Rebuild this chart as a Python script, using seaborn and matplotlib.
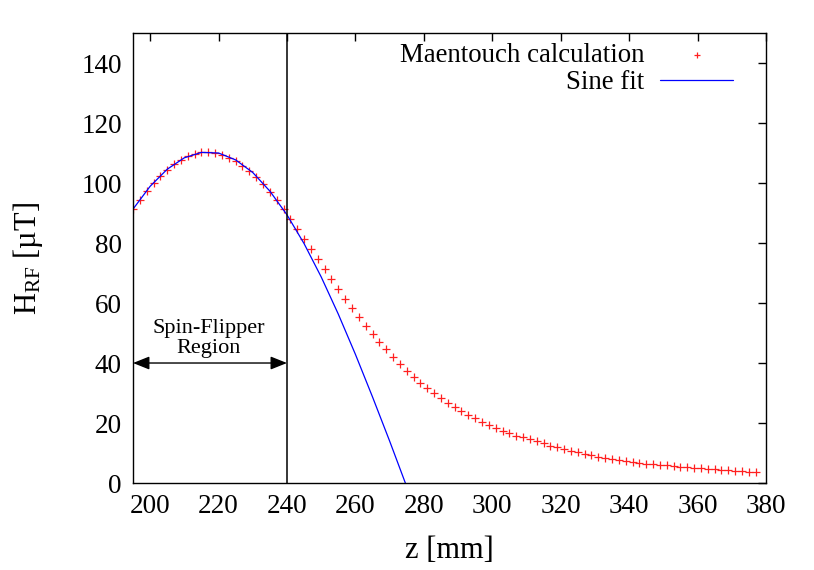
import matplotlib
matplotlib.use('Agg')
import matplotlib.pyplot as plt
import seaborn as sns
import pandas as pd

# Maentouch calculation, one point every 2 mm
z_calc = [195, 197, 199, 201, 203, 205, 207, 209, 211, 213, 215, 217,
          219, 221, 223, 225, 227, 229, 231, 233, 235, 237, 239,
          241, 243, 245, 247, 249, 251, 253, 255, 257, 259, 261, 263,
          265, 267, 269, 271, 273, 275,
          277, 279, 281, 283, 285, 287, 289, 291, 293, 295, 297, 299,
          301, 303, 305, 307, 309, 311,
          313, 315, 317, 319, 321, 323, 325, 327, 329, 331, 333, 335,
          337, 339, 341, 343, 345,
          347, 349, 351, 353, 355, 357, 359, 361, 363, 365, 367, 369,
          371, 373, 375, 377]
h_calc = [91.5, 94.5, 97.3, 100.0, 102.4, 104.5, 106.3, 107.8, 109.0, 109.8, 110.2, 110.3,
          110.0, 109.4, 108.5, 107.3, 105.8, 104.0, 101.9, 99.6, 97.1, 94.3, 91.3,
          88.0, 84.6, 81.2, 77.9, 74.6, 71.2, 67.9, 64.6, 61.3, 58.3, 55.3, 52.4,
          49.7, 47.0, 44.6, 42.1, 39.8, 37.5,
          35.4, 33.4, 31.6, 29.9, 28.3, 26.8, 25.4, 24.0, 22.8, 21.6, 20.4, 19.3,
          18.3, 17.4, 16.6, 15.8, 15.2, 14.6,
          13.9, 13.2, 12.5, 11.9, 11.3, 10.7, 10.2, 9.7, 9.2, 8.8, 8.4, 8.0,
          7.7, 7.3, 7.0, 6.8, 6.5,
          6.3, 6.1, 5.9, 5.7, 5.5, 5.3, 5.1, 4.9, 4.7, 4.6, 4.4, 4.2,
          4.0, 3.9, 3.7, 3.6]

z_fit = [195, 200, 205, 210, 215, 220, 225, 230, 235, 240, 245, 250,
         255, 260, 265, 270, 274.6]
h_fit = [91.3, 98.9, 104.6, 108.4, 110.2, 110.0, 107.7, 103.5, 97.3, 89.4, 79.8, 68.7,
         56.3, 42.9, 28.7, 14.0, 0.0]

x_ticks = [200, 220, 240, 260, 280, 300, 320, 340, 360, 380]
y_ticks = [0, 20, 40, 60, 80, 100, 120, 140]
region = [195, 240]  # spin-flipper region limits

df_calc = pd.DataFrame({'z': z_calc, 'H': h_calc})
df_fit = pd.DataFrame({'z': z_fit, 'H': h_fit})

sns.set_style('white')
plt.rcParams['font.family'] = ['Liberation Serif', 'DejaVu Serif']
plt.rcParams['mathtext.fontset'] = 'custom'
plt.rcParams['mathtext.rm'] = 'Liberation Serif'
plt.rcParams['text.color'] = 'black'
plt.rcParams['axes.labelcolor'] = 'black'
plt.rcParams['xtick.color'] = 'black'
plt.rcParams['ytick.color'] = 'black'

fig = plt.figure(figsize=(8.14, 5.70), dpi=100)
ax = fig.add_axes([0.1634, 0.1526, 0.7776, 0.7895])

sns.scatterplot(data=df_calc, x='z', y='H', marker='+', color='#ff2020', s=34,
                linewidth=0.9, ax=ax, legend=False)
sns.lineplot(data=df_fit, x='z', y='H', color='#0000ff', linewidth=0.9,
             ax=ax, legend=False)

ax.axvline(region[1], color='black', linewidth=1.1)
ax.annotate('', xy=(region[0], 40), xytext=(region[1], 40),
            arrowprops=dict(arrowstyle='<|-|>,head_length=1.0,head_width=0.4',
                            mutation_scale=10, color='black', lw=1.0,
                            shrinkA=0, shrinkB=0))
ax.text(217, 41.8, 'Spin-Flipper\nRegion', ha='center', va='bottom',
        fontsize=16, linespacing=1.02, color='black')

ax.set_xlim(195, 380)
ax.set_ylim(0, 150)
ax.set_xticks(x_ticks)
ax.set_yticks(y_ticks)
ax.tick_params(direction='in', top=True, right=True, length=5.5, width=1.0,
               labelsize=19.5, color='black', labelcolor='black', pad=8)
for sp in ax.spines.values():
    sp.set_color('black')
    sp.set_linewidth(1.0)

ax.set_xlabel('z [mm]', fontsize=22)
ax.set_ylabel(r'$\mathregular{H_{RF}}$ [µT]', fontsize=22)
ax.xaxis.set_label_coords(0.5, -0.118)
ax.yaxis.set_label_coords(-0.139, 0.5)

# gnuplot-like key: text right aligned, sample on the right
h_pts = ax.collections[0]
h_line = ax.lines[0]
leg1 = ax.legend([h_pts], ['Maentouch calculation'], loc='center right',
                 bbox_to_anchor=(0.948, 0.949), markerfirst=False, frameon=False,
                 fontsize=19.4, handlelength=2.7, handletextpad=0.6,
                 borderpad=0, borderaxespad=0, markerscale=0.7)
ax.add_artist(leg1)
ax.legend([h_line], ['Sine fit'], loc='center right',
          bbox_to_anchor=(0.948, 0.889), markerfirst=False, frameon=False,
          fontsize=19.4, handlelength=2.7, handletextpad=0.6,
          borderpad=0, borderaxespad=0)

fig.savefig('out.png', dpi=100)
